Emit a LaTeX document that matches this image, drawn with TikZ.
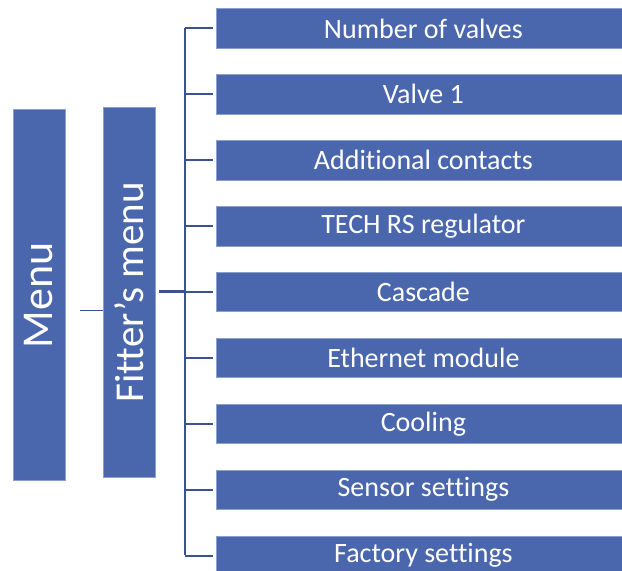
\documentclass[tikz,border=0pt]{standalone}
\usepackage{fontspec}
\setmainfont{Carlito}[Ligatures=NoCommon]
\usetikzlibrary{calc}
\definecolor{boxfill}{RGB}{74,103,173}
\definecolor{boxedge}{RGB}{140,160,205}
\definecolor{linecol}{RGB}{59,82,145}
\begin{document}
\begin{tikzpicture}[x=1pt,y=-1pt,
  itembox/.style={fill=boxfill,draw=boxedge,line width=0.8pt,minimum width=414pt,minimum height=39.5pt,inner sep=0pt,anchor=north west,text=white,font=\fontsize{28}{30}\selectfont},
  vbox/.style={fill=boxfill,draw=boxedge,line width=0.8pt,minimum width=52pt,inner sep=0pt,anchor=north west,text=white},
  conn/.style={draw=linecol,line width=2pt}]
\useasboundingbox (0,0) rectangle (622,571);
\node[vbox,minimum height=371pt] (menu) at (12.5,109.3) {};
\node[rotate=90,text=white,font=\fontsize{44}{48}\selectfont] (menut) at (menu.center) {Menu};
\node[vbox,minimum height=370.6pt] (fitter) at (103.2,106.7) {};
\node[rotate=90,text=white,font=\fontsize{41}{45}\selectfont] (fittert) at (fitter.center) {Fitter’s menu};
\foreach \t [count=\i from 0] in {Number of valves,Valve 1,Additional contacts,TECH RS regulator,Cascade,Ethernet module,Cooling,Sensor settings,Factory settings}{
  \node[itembox] (b\i) at (216,8.3+65.9*\i) {\t};
}
\coordinate (ms) at (80,310.3);
\draw[draw=linecol,line width=1.4pt] (ms) -- (ms -| fitter.west);
\coordinate (tk) at (185.3,291.7);
\draw[draw=linecol,line width=3pt] ([xshift=3pt]tk -| fitter.east) -- (tk);
\coordinate (ttop) at (185.3,28.3);
\coordinate (tbot) at (185.3,555);
\draw[conn] (ttop) -- (tbot);
\foreach \i in {0,...,8}{
  \draw[conn] (b\i.west -| tk) -- ([xshift=-3pt]b\i.west);
}
\end{tikzpicture}
\end{document}
